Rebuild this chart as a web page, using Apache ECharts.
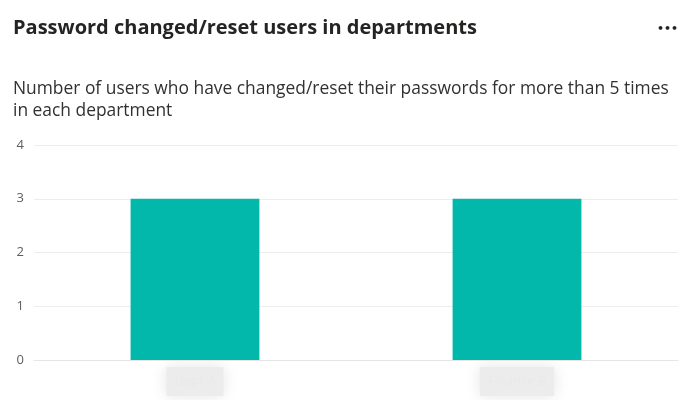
<!DOCTYPE html>
<html>
<head>
<meta charset="utf-8">
<script src="https://cdn.jsdelivr.net/npm/echarts@6/dist/echarts.min.js"></script>
<style>html,body{margin:0;padding:0;background:#fff}#c{width:700px;height:400px}</style>
</head>
<body>
<div id="c"></div>
<script>
var categories = ['Dept A', 'Finance B'];
var values = [3, 3];
var yTicks = [0, 1, 2, 3, 4];

var chart = echarts.init(document.getElementById('c'));
chart.setOption({
  animation: false,
  textStyle: { fontFamily: 'Open Sans' },
  title: [
    { text: 'Password changed/reset users in departments', left: 8, top: 13,
      textStyle: { fontSize: 20, fontWeight: 'bold', color: '#252423', fontFamily: 'Open Sans' } },
    { text: 'Number of users who have changed/reset their passwords for more than 5 times\nin each department',
      left: 8, top: 73,
      textStyle: { fontSize: 17.4, fontWeight: 'normal', color: '#323130', lineHeight: 22, fontFamily: 'Open Sans' } }
  ],
  graphic: [
    { type: 'text', left: 657, top: 24, style: { text: '\u2022\u2022\u2022', fontSize: 11, fontWeight: 'bold', fill: '#252423', fontFamily: 'DejaVu Sans' } }
  ],
  grid: { left: 34, right: 22, top: 145, bottom: 40 },
  xAxis: {
    type: 'category', data: categories,
    axisLine: { lineStyle: { color: '#e6e6e6' } },
    axisTick: { show: false },
    axisLabel: {
      margin: 7, fontSize: 13, color: '#e9e9e9',
      backgroundColor: '#ececec', padding: [8, 8],
      shadowColor: 'rgba(228,228,228,1)', shadowBlur: 16
    }
  },
  yAxis: {
    type: 'value', min: yTicks[0], max: yTicks[yTicks.length - 1], interval: 1,
    axisLine: { show: false }, axisTick: { show: false },
    axisLabel: { color: '#605e5c', fontSize: 13, margin: 10 },
    splitLine: { lineStyle: { color: '#ededed' } }
  },
  series: [{
    type: 'bar', data: values, barWidth: '40%',
    itemStyle: { color: '#01b8aa' }
  }]
});
</script>
</body>
</html>
